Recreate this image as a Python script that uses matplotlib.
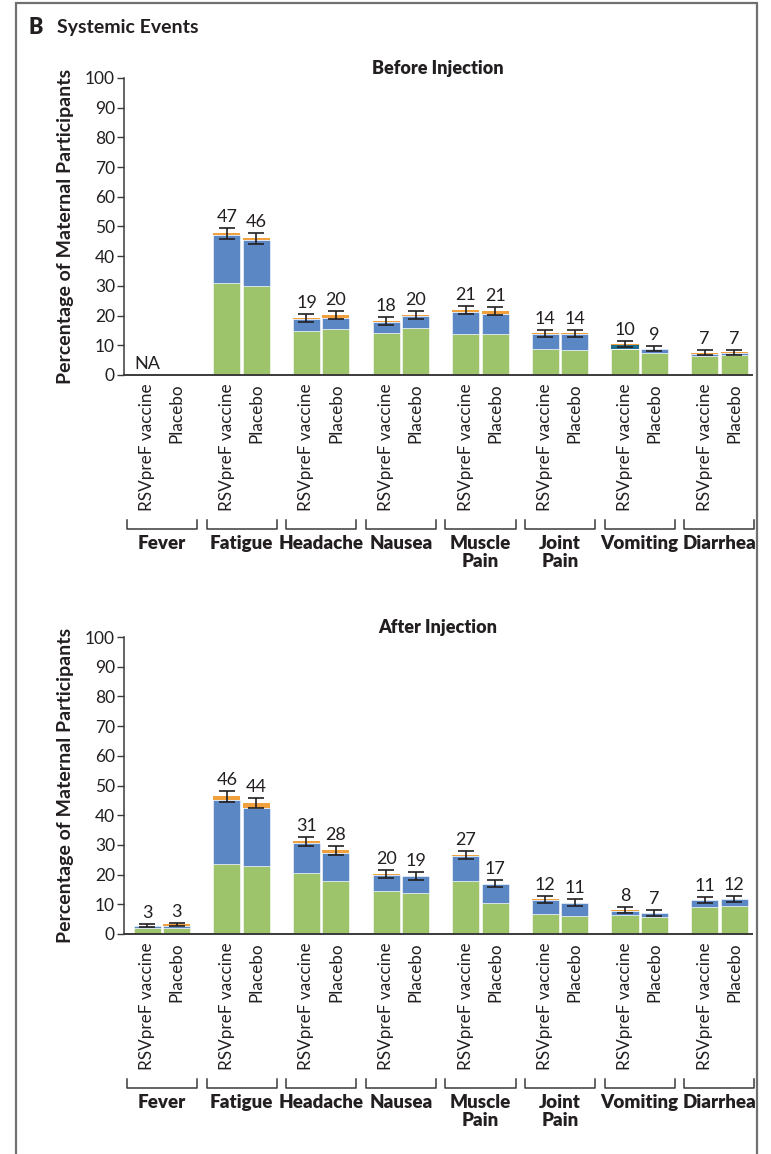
import numpy as np
import matplotlib
matplotlib.use("Agg")
import matplotlib.pyplot as plt
from matplotlib.patches import Rectangle

plt.rcParams['font.family'] = ['Lato', 'DejaVu Sans']

categories = ['Fever', 'Fatigue', 'Headache', 'Nausea', 'Muscle\nPain', 'Joint\nPain', 'Vomiting', 'Diarrhea']
groups = ['RSVpreF vaccine', 'Placebo']

# before injection (fever not assessed -> NA)
before_vac_mild = [np.nan, 30.9, 14.9, 14.2, 13.7, 8.9, 8.8, 6.4]
before_vac_mod = [np.nan, 16.2, 4.0, 3.8, 7.4, 4.9, 0.0, 0.8]
before_vac_g4 = [np.nan, 0.0, 0.0, 0.0, 0.0, 0.0, 1.3, 0.0]
before_vac_sev = [np.nan, 0.6, 0.2, 0.2, 0.7, 0.2, 0.3, 0.3]
before_pla_mild = [np.nan, 30.0, 15.5, 15.9, 13.7, 8.4, 7.5, 6.8]
before_pla_mod = [np.nan, 15.5, 3.8, 4.1, 6.8, 5.4, 1.25, 0.7]
before_pla_g4 = [np.nan, 0, 0, 0, 0, 0, 0, 0]
before_pla_sev = [np.nan, 0.5, 0.8, 0.3, 1.1, 0.2, 0.1, 0.1]
before_vac_pct = ['NA', 47, 19, 18, 21, 14, 10, 7]
before_pla_pct = [None, 46, 20, 20, 21, 14, 9, 7]
before_vac_err = [0, 1.8, 1.4, 1.4, 1.4, 1.2, 1.0, 0.9]
before_pla_err = [0, 1.8, 1.4, 1.3, 1.4, 1.2, 0.9, 0.9]

# after injection
after_vac_mild = [1.9, 23.6, 20.4, 14.5, 17.7, 6.7, 6.5, 9.2]
after_vac_mod = [0.8, 21.4, 10.4, 5.5, 8.7, 4.8, 1.4, 2.1]
after_vac_g4 = [0, 0, 0, 0, 0, 0, 0, 0]
after_vac_sev = [0.1, 1.3, 0.4, 0.1, 0.2, 0.2, 0.1, 0.1]
after_pla_mild = [1.9, 22.9, 17.9, 13.9, 10.3, 6.2, 5.6, 9.5]
after_pla_mod = [0.8, 19.6, 9.5, 5.5, 6.6, 4.3, 1.4, 2.2]
after_pla_g4 = [0, 0, 0, 0, 0, 0, 0, 0]
after_pla_sev = [0.5, 1.6, 0.8, 0.1, 0.1, 0.1, 0.1, 0.1]
after_vac_pct = [3, 46, 31, 20, 27, 12, 8, 11]
after_pla_pct = [3, 44, 28, 19, 17, 11, 7, 12]
after_vac_err = [0.6, 1.8, 1.6, 1.4, 1.5, 1.1, 1.0, 1.1]
after_pla_err = [0.6, 1.8, 1.5, 1.4, 1.3, 1.1, 0.9, 1.1]

c_mild = '#9dc46b'
c_mod = '#5b87c5'
c_g4 = '#1f6f8f'
c_sev = '#f0a03c'
ink = '#231f20'

fig = plt.figure(figsize=(7.71, 11.54), dpi=100)
W, H = 771, 1154

# outer frame
fig.patches.append(Rectangle((16 / W, -0.05), (757 - 16) / W, 1.05 - 3 / H, transform=fig.transFigure,
                             fill=False, edgecolor='#707070', lw=1.6))
fig.text(29 / W, 1 - 27 / H, 'B', fontsize=15.5, fontweight='heavy', va='center', ha='left', color=ink)
fig.text(57 / W, 1 - 28 / H, 'Systemic Events', fontsize=14, fontweight='bold', va='center', ha='left',
         color=ink)

x = np.arange(len(categories))
off = 0.185
bw = 0.34


def panel(top_px, title, vac, pla):
    y100 = top_px
    y0 = top_px + 297
    ax = fig.add_axes([124 / W, 1 - y0 / H, (752 - 124) / W, (y0 - y100) / H])
    ax.set_xlim(-0.477, 7.41)
    ax.set_ylim(0, 100)
    for sp in ['top', 'right']:
        ax.spines[sp].set_visible(False)
    ax.spines['left'].set_color('#3a3a3a')
    ax.spines['bottom'].set_color('#3a3a3a')
    ax.spines['left'].set_linewidth(1.1)
    ax.spines['bottom'].set_linewidth(1.4)
    ax.set_yticks(range(0, 101, 10))
    ax.tick_params(axis='y', length=5, width=1, labelsize=12.5, colors='#3a3a3a', labelcolor=ink, pad=1.5)
    ax.set_xticks([])
    ax.set_title(title, fontsize=13, fontweight='heavy', color=ink, pad=3, x=0.5)

    for sign, (mild, mod, g4, sev, pct, err), lab in [(-1, vac, groups[0]), (1, pla, groups[1])]:
        xs = x + sign * off
        mild = np.array(mild, float)
        mod = np.array(mod, float)
        g4 = np.array(g4, float)
        sev = np.array(sev, float)
        ok = ~np.isnan(mild)
        xs_ok = xs[ok]
        b1 = mild[ok]
        b2 = b1 + mod[ok]
        b3 = b2 + g4[ok]
        ax.bar(xs_ok, mild[ok], bw, color=c_mild, edgecolor='white', lw=0.4)
        ax.bar(xs_ok, mod[ok], bw, bottom=b1, color=c_mod, edgecolor='white', lw=0.4)
        ax.bar(xs_ok, g4[ok], bw, bottom=b2, color=c_g4, lw=0)
        ax.bar(xs_ok, sev[ok], bw, bottom=b3, color=c_sev, lw=0)
        tops = b3 + sev[ok]
        e = np.array(err, float)[ok]
        ax.errorbar(xs_ok, tops, yerr=e, fmt='none', ecolor=ink, elinewidth=1.2, capsize=6,
                    capthick=1.2)
        for xi, t, ei, p in zip(xs_ok, tops, e, np.array(pct, object)[ok]):
            ax.annotate(str(p), (xi, t + ei), xytext=(0, 2), textcoords='offset points', ha='center',
                        va='bottom', fontsize=13, color=ink)
        for i in np.where(~ok)[0]:
            if pct[i]:
                ax.text(xs[i], 1.0, pct[i], ha='center', va='bottom', fontsize=13, color=ink)
        for xi in xs:
            ax.text(xi, -2.7, lab, rotation=90, ha='center', va='top', fontsize=12.3, color=ink,
                    clip_on=False)

    for i, cat in enumerate(categories):
        ax.plot([i - 0.44, i - 0.44, i + 0.44, i + 0.44], [-48.8, -51.9, -51.9, -48.8], color='#3a3a3a',
                lw=1.1, clip_on=False)
        ax.text(i, -54.0, cat, ha='center', va='top', fontsize=13.5, fontweight='heavy', color=ink,
                linespacing=1.05, clip_on=False)

    fig.text(66 / W, 1 - (y100 + y0) / 2 / H, 'Percentage of Maternal Participants', rotation=90,
             ha='center', va='center', fontsize=14, fontweight='bold', color=ink)
    return ax


panel(78, 'Before Injection',
      (before_vac_mild, before_vac_mod, before_vac_g4, before_vac_sev, before_vac_pct, before_vac_err),
      (before_pla_mild, before_pla_mod, before_pla_g4, before_pla_sev, before_pla_pct, before_pla_err))
panel(637, 'After Injection',
      (after_vac_mild, after_vac_mod, after_vac_g4, after_vac_sev, after_vac_pct, after_vac_err),
      (after_pla_mild, after_pla_mod, after_pla_g4, after_pla_sev, after_pla_pct, after_pla_err))

fig.savefig('out.png', dpi=100)
